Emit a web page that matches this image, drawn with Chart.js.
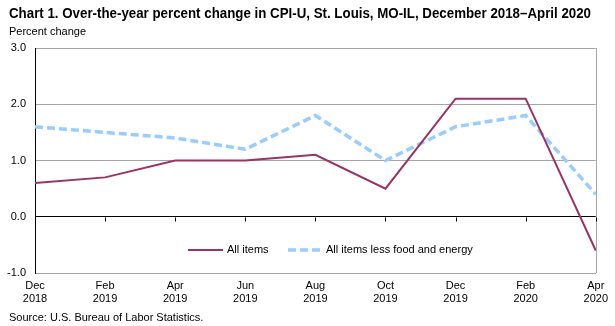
<!DOCTYPE html>
<html>
<head>
<meta charset="utf-8">
<script src="https://cdn.jsdelivr.net/npm/chart.js@4.4.1/dist/chart.umd.min.js"></script>
<style>
  html, body { margin: 0; padding: 0; background: #fff; }
  #wrap { position: relative; width: 615px; height: 326px; }
</style>
</head>
<body>
<div id="wrap"><canvas id="cpi" width="615" height="326"></canvas></div>
<script>
const months = [['Dec','2018'],['Feb','2019'],['Apr','2019'],['Jun','2019'],['Aug','2019'],['Oct','2019'],['Dec','2019'],['Feb','2020'],['Apr','2020']]
const allItems = [0.6, 0.7, 1.0, 1.0, 1.1, 0.5, 2.1, 2.1, -0.6]
const coreItems = [1.6, 1.5, 1.4, 1.2, 1.8, 1.0, 1.6, 1.8, 0.4]
const seriesNames = ['All items', 'All items less food and energy']
const yTicks = [-1, 0, 1, 2, 3]

const maroon = '#993366'
const lightBlue = '#99ccff'
const gridGrey = '#a6a6a6'
const font = 'Arial, "Liberation Sans", sans-serif'

// titles, legend, right border and the little ticks on the zero line
const extras = {
  id: 'extras',
  afterDraw(chart) {
    const ctx = chart.ctx
    const area = chart.chartArea
    const x = chart.scales.x
    const y = chart.scales.y
    ctx.save()

    ctx.strokeStyle = gridGrey
    ctx.lineWidth = 1
    ctx.beginPath()
    ctx.moveTo(Math.round(area.right) + 0.5, area.top)
    ctx.lineTo(Math.round(area.right) + 0.5, area.bottom)
    ctx.stroke()

    const zy = Math.round(y.getPixelForValue(0)) + 0.5
    ctx.strokeStyle = '#000'
    ctx.beginPath()
    for (let i = 1; i < months.length; i++) {
      const px = Math.round(x.getPixelForValue(i)) + 0.5
      ctx.moveTo(px, zy)
      ctx.lineTo(px, zy + 4)
    }
    ctx.stroke()

    ctx.fillStyle = '#000'
    ctx.textBaseline = 'alphabetic'
    ctx.textAlign = 'left'
    ctx.font = 'bold 14px ' + font
    ctx.fillText('Chart 1. Over-the-year percent change in CPI-U, St. Louis, MO-IL, December 2018\u2013April 2020', 9, 18, 582)
    ctx.font = '11px ' + font
    ctx.fillText('Percent change', 9, 35)
    ctx.fillText('Source: U.S. Bureau of Labor Statistics.', 9, 321)

    // legend
    const ly = 250
    ctx.lineWidth = 2
    ctx.strokeStyle = maroon
    ctx.beginPath()
    ctx.moveTo(188, ly)
    ctx.lineTo(223, ly)
    ctx.stroke()
    ctx.lineWidth = 3.5
    ctx.strokeStyle = lightBlue
    ctx.setLineDash([8, 4])
    ctx.beginPath()
    ctx.moveTo(288, ly)
    ctx.lineTo(321, ly)
    ctx.stroke()
    ctx.setLineDash([])
    ctx.textBaseline = 'middle'
    ctx.fillText(seriesNames[0], 227, ly)
    ctx.fillText(seriesNames[1], 326, ly)
    ctx.restore()
  }
}

new Chart('cpi', {
  type: 'line',
  data: {
    labels: months,
    datasets: [{
      label: seriesNames[0],
      data: allItems,
      borderColor: maroon,
      borderWidth: 2,
      pointRadius: 0,
      tension: 0
    }, {
      label: seriesNames[1],
      data: coreItems,
      borderColor: lightBlue,
      borderWidth: 3.5,
      borderDash: [8, 4],
      pointRadius: 0,
      tension: 0
    }]
  },
  options: {
    responsive: false,
    animation: false,
    layout: { padding: { top: 48, right: 17, left: 0, bottom: 0 } },
    plugins: {
      legend: { display: false },
      title: { display: false },
      tooltip: { enabled: false }
    },
    scales: {
      x: {
        offset: false,
        afterFit: s => { s.height = 53 },
        grid: { display: false, drawTicks: false },
        border: { color: gridGrey },
        ticks: {
          color: '#000',
          font: { family: font, size: 11, lineHeight: 1.15 },
          padding: 7,
          maxRotation: 0,
          autoSkip: false
        }
      },
      y: {
        min: yTicks[0],
        max: yTicks[yTicks.length - 1],
        afterFit: s => { s.width = 35 },
        afterBuildTicks: s => { s.ticks = yTicks.map(v => ({ value: v })) },
        border: { color: '#000' },
        grid: {
          drawTicks: false,
          color: c => c.tick && c.tick.value === 0 ? '#000' : gridGrey
        },
        ticks: {
          color: '#000',
          padding: 9,
          font: { family: font, size: 11 },
          callback: v => v.toFixed(1)
        }
      }
    }
  },
  plugins: [extras]
})
</script>
</body>
</html>
